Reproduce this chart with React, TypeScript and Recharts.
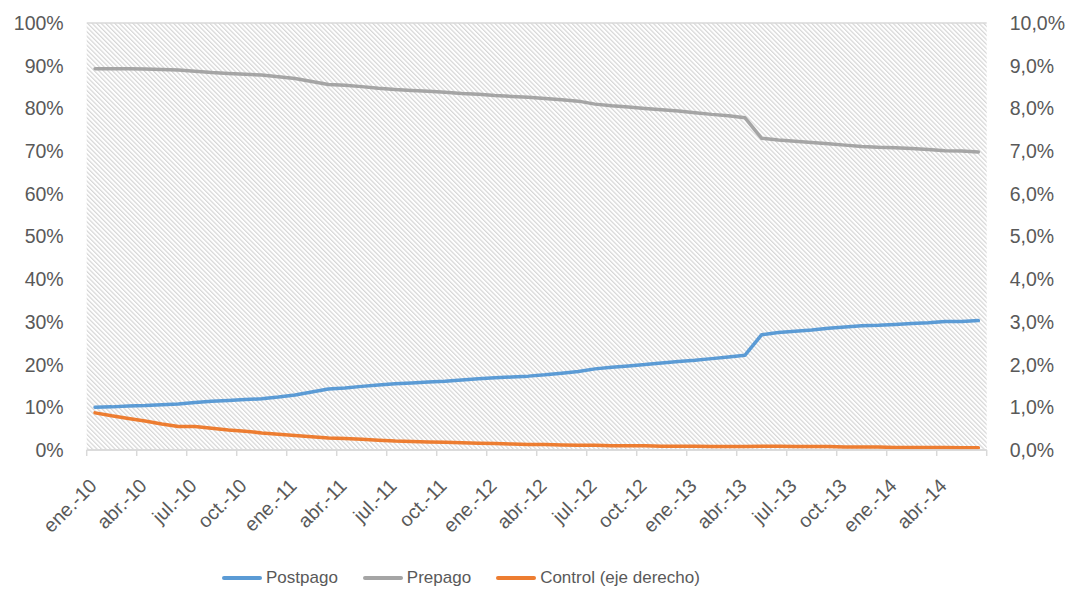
import { CartesianGrid, Legend, Line, LineChart, XAxis, YAxis } from "recharts";

const MONTHS = ["ene.", "feb.", "mar.", "abr.", "may.", "jun.", "jul.", "ago.", "sep.", "oct.", "nov.", "dic."];
const YEARS = ["10", "11", "12", "13", "14"];
const CATEGORIES = YEARS.flatMap((y) => MONTHS.map((m) => `${m}-${y}`)).slice(0, 54);

// % of total lines
const POSTPAGO = [
  10.0, 10.1, 10.3, 10.4, 10.6, 10.8, 11.1, 11.4, 11.6, 11.8, 12.0, 12.4,
  12.9, 13.6, 14.3, 14.5, 14.9, 15.2, 15.5, 15.7, 15.9, 16.1, 16.4, 16.7,
  16.9, 17.1, 17.3, 17.6, 18.0, 18.4, 19.0, 19.4, 19.7, 20.0, 20.4, 20.7,
  21.0, 21.4, 21.8, 22.2, 27.0, 27.5, 27.8, 28.1, 28.5, 28.8, 29.1, 29.2,
  29.4, 29.6, 29.8, 30.1, 30.1, 30.3,
];
const PREPAGO = [
  89.3, 89.3, 89.3, 89.2, 89.1, 89.0, 88.7, 88.4, 88.2, 88.0, 87.8, 87.4,
  87.0, 86.3, 85.6, 85.4, 85.1, 84.7, 84.4, 84.2, 84.0, 83.8, 83.5, 83.3,
  83.0, 82.8, 82.6, 82.3, 82.0, 81.7, 81.0, 80.6, 80.3, 80.0, 79.7, 79.4,
  79.0, 78.6, 78.3, 77.8, 73.0, 72.6, 72.3, 72.0, 71.7, 71.4, 71.1, 70.9,
  70.8, 70.6, 70.4, 70.1, 70.0, 69.8,
];
// right axis
const CONTROL = [
  0.87, 0.8, 0.74, 0.68, 0.61, 0.55, 0.55, 0.51, 0.47, 0.44, 0.4, 0.37,
  0.34, 0.31, 0.28, 0.27, 0.25, 0.23, 0.21, 0.2, 0.19, 0.18, 0.17, 0.16,
  0.15, 0.14, 0.13, 0.13, 0.12, 0.11, 0.11, 0.1, 0.1, 0.1, 0.09, 0.09,
  0.09, 0.08, 0.08, 0.08, 0.09, 0.09, 0.08, 0.08, 0.08, 0.07, 0.07, 0.07,
  0.06, 0.06, 0.06, 0.06, 0.05, 0.05,
];

const LEFT_TICKS = [0, 10, 20, 30, 40, 50, 60, 70, 80, 90, 100];
const RIGHT_TICKS = [0, 1, 2, 3, 4, 5, 6, 7, 8, 9, 10];

const SERIES = [
  { key: "postpago", name: "Postpago", color: "#5b9bd5", axis: "left" },
  { key: "prepago", name: "Prepago", color: "#a5a5a5", axis: "left" },
  { key: "control", name: "Control (eje derecho)", color: "#ed7d31", axis: "right" },
];

const data = CATEGORIES.map((month, i) => ({
  month,
  postpago: POSTPAGO[i],
  prepago: PREPAGO[i],
  control: CONTROL[i],
}));

const FONT = "'Liberation Sans', Arial, sans-serif";
const TEXT = "#595959";
const GRID = "#d9d9d9";
const PLOT_W = 900;
const CAT_W = PLOT_W / CATEGORIES.length;

function MonthTick(props: any) {
  const { x, y, payload } = props;
  const bx = x + 3;
  const by = y + 37;
  const isLast = payload.value === CATEGORIES[CATEGORIES.length - 3];
  return (
    <g>
      <line x1={x - CAT_W / 2} x2={x - CAT_W / 2} y1={y} y2={y + 6} stroke={GRID} strokeWidth={1.5} />
      {isLast && (
        <line x1={x + CAT_W * 2.5} x2={x + CAT_W * 2.5} y1={y} y2={y + 6} stroke={GRID} strokeWidth={1.5} />
      )}
      <text x={bx} y={by} textAnchor="end" transform={`rotate(-45, ${bx}, ${by})`} fill={TEXT} fontSize={19.5} fontFamily={FONT}>
        {payload.value}
      </text>
    </g>
  );
}

function LegendContent() {
  return (
    <div style={{ height: 24, display: "flex", alignItems: "center", paddingLeft: 222, fontFamily: FONT, fontSize: 17, color: TEXT }}>
      {SERIES.map((s) => (
        <div key={s.key} style={{ display: "flex", alignItems: "center", marginRight: 25 }}>
          <span style={{ display: "inline-block", width: 40, height: 4, borderRadius: 2, background: s.color, marginRight: 4 }} />
          <span>{s.name}</span>
        </div>
      ))}
    </div>
  );
}

export default function App() {
  return (
    <div style={{ position: "absolute", left: 0, top: 0, fontFamily: FONT, background: "#fff" }}>
      <LineChart width={1072} height={590} data={data} margin={{ top: 23, right: 0, bottom: 0, left: 0 }}>
        <defs>
          <pattern id="hatch" width={3.2} height={10} patternUnits="userSpaceOnUse" patternTransform="rotate(-45)">
            <rect x={0} y={0} width={1.2} height={10} fill="#d6d6d6" />
          </pattern>
        </defs>
        <CartesianGrid vertical={false} stroke={GRID} strokeWidth={1.5} fill="url(#hatch)" fillOpacity={1} />
        <XAxis
          dataKey="month"
          interval={2}
          padding={{ left: CAT_W / 2, right: CAT_W / 2 }}
          tick={<MonthTick />}
          tickLine={false}
          tickSize={0}
          tickMargin={0}
          height={116}
          stroke={GRID}
          strokeWidth={1.5}
        />
        <YAxis
          yAxisId="left"
          domain={[0, 100]}
          ticks={LEFT_TICKS}
          tickFormatter={(v: number) => `${v}%`}
          axisLine={false}
          tickLine={false}
          tickSize={0}
          tickMargin={23}
          width={86.7}
          tick={{ fill: TEXT, fontSize: 19.5, fontFamily: FONT }}
          interval={0}
        />
        <YAxis
          yAxisId="right"
          orientation="right"
          domain={[0, 10]}
          ticks={RIGHT_TICKS}
          tickFormatter={(v: number) => `${v.toFixed(1).replace(".", ",")}%`}
          axisLine={false}
          tickLine={false}
          tickSize={0}
          tickMargin={23}
          width={85.3}
          tick={{ fill: TEXT, fontSize: 19.5, fontFamily: FONT }}
          interval={0}
        />
        {SERIES.map((s) => (
          <Line
            key={s.key}
            yAxisId={s.axis}
            dataKey={s.key}
            name={s.name}
            type="linear"
            stroke={s.color}
            strokeWidth={3.5}
            strokeLinecap="round"
            strokeLinejoin="round"
            dot={false}
            isAnimationActive={false}
          />
        ))}
        <Legend verticalAlign="bottom" content={<LegendContent />} wrapperStyle={{ left: 0, width: 1072 }} />
      </LineChart>
    </div>
  );
}
